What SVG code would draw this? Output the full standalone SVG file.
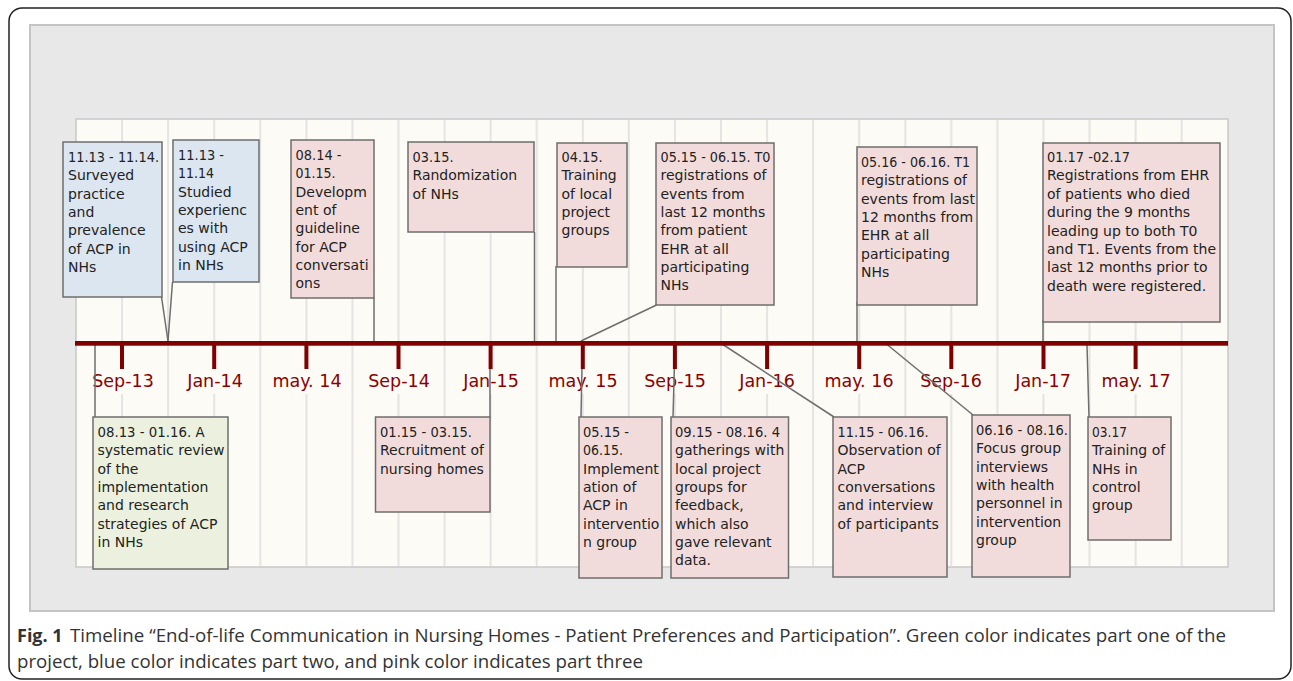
<svg xmlns="http://www.w3.org/2000/svg" width="1293" height="681" viewBox="0 0 1293 681">
<style>
.box{stroke:#6e6e6e;stroke-width:1.5}
.pink{fill:#f2dcdb}
.blue{fill:#dce6f1}
.green{fill:#ebf1de}
.t{font-family:"DejaVu Sans",sans-serif;font-size:14px;fill:#222}
.lbl{font-family:"DejaVu Sans",sans-serif;font-size:17.5px;fill:#8b0000;text-anchor:middle}
.con{stroke:#6e6e6e;stroke-width:1.5;fill:none}
.cap{font-family:"Open Sans",sans-serif;font-size:18px;fill:#333}
</style>
<rect x="9" y="8" width="1282" height="671" rx="13" fill="#fff" stroke="#222" stroke-width="1.5"/>
<rect x="30" y="25" width="1244" height="586" fill="#e8e8e8" stroke="#c4c4c4" stroke-width="2"/>
<rect x="76" y="119" width="1152" height="448" fill="#fdfbf5" stroke="#c8c8c8" stroke-width="1.5"/>
<g id="grid" stroke="#e4e4e4" stroke-width="2">
<path d="M122.1 120V566M168.1 120V566M214.2 120V566M260.3 120V566M306.4 120V566M352.4 120V566M398.5 120V566M444.6 120V566M490.6 120V566M536.7 120V566M582.8 120V566M628.8 120V566M674.9 120V566M721 120V566M767.1 120V566M813.1 120V566M859.2 120V566M905.3 120V566M951.3 120V566M997.4 120V566M1043.5 120V566M1089.5 120V566M1135.6 120V566M1181.7 120V566"/>
</g>
<g id="labels">
<g fill="#fdfbf5">
<rect x="90" y="369" width="64" height="25"/><rect x="182" y="369" width="64" height="25"/><rect x="270" y="369" width="74" height="25"/><rect x="366" y="369" width="64" height="25"/><rect x="458" y="369" width="64" height="25"/><rect x="546" y="369" width="74" height="25"/><rect x="643" y="369" width="64" height="25"/><rect x="735" y="369" width="64" height="25"/><rect x="822" y="369" width="74" height="25"/><rect x="919" y="369" width="64" height="25"/><rect x="1011" y="369" width="64" height="25"/><rect x="1099" y="369" width="74" height="25"/>
</g>
<text class="lbl" x="123" y="387">Sep-13</text>
<text class="lbl" x="215" y="387">Jan-14</text>
<text class="lbl" x="307" y="387">may. 14</text>
<text class="lbl" x="399" y="387">Sep-14</text>
<text class="lbl" x="491" y="387">Jan-15</text>
<text class="lbl" x="583" y="387">may. 15</text>
<text class="lbl" x="675" y="387">Sep-15</text>
<text class="lbl" x="767" y="387">Jan-16</text>
<text class="lbl" x="859" y="387">may. 16</text>
<text class="lbl" x="951" y="387">Sep-16</text>
<text class="lbl" x="1043" y="387">Jan-17</text>
<text class="lbl" x="1136" y="387">may. 17</text>
</g>
<g id="connectors" class="con">
<path d="M161.5 297L168 341"/>
<path d="M172.5 282L168 341"/>
<path d="M374 298V341"/>
<path d="M534.5 232V341"/>
<path d="M556 266V341"/>
<path d="M656.5 305L581 341"/>
<path d="M857 302V341"/>
<path d="M1043 320V341"/>
<path d="M95 345V417"/>
<path d="M490 345V417"/>
<path d="M582.5 341L581 417"/>
<path d="M675 345L673 417"/>
<path d="M719 342L834 417"/>
<path d="M884 342L973 415"/>
<path d="M1087 345L1089 417"/>
</g>
<g id="axis" fill="#800000">
<rect x="75" y="341" width="1153" height="4.7"/>
<rect x="120" y="343" width="4" height="26"/><rect x="212.2" y="343" width="4" height="26"/><rect x="304.4" y="343" width="4" height="26"/><rect x="396.5" y="343" width="4" height="26"/><rect x="488.6" y="343" width="4" height="26"/><rect x="580.8" y="343" width="4" height="26"/><rect x="672.9" y="343" width="4" height="26"/><rect x="765.1" y="343" width="4" height="26"/><rect x="857.2" y="343" width="4" height="26"/><rect x="949.3" y="343" width="4" height="26"/><rect x="1041.5" y="343" width="4" height="26"/><rect x="1133.6" y="343" width="4" height="26"/>
</g>
<g id="n1"><rect class="box blue" x="63" y="142" width="99" height="155"/>
<text class="t" y="162"><tspan x="68" textLength="91" lengthAdjust="spacingAndGlyphs">11.13 - 11.14.</tspan><tspan x="68" dy="18.3">Surveyed</tspan><tspan x="68" dy="18.3">practice</tspan><tspan x="68" dy="18.3">and</tspan><tspan x="68" dy="18.3">prevalence</tspan><tspan x="68" dy="18.3">of ACP in</tspan><tspan x="68" dy="18.3">NHs</tspan></text></g>
<g id="n2"><rect class="box blue" x="173" y="140" width="86" height="142"/>
<text class="t" y="160"><tspan x="178" textLength="46" lengthAdjust="spacingAndGlyphs">11.13 -</tspan><tspan x="178" dy="18.3" textLength="36" lengthAdjust="spacingAndGlyphs">11.14</tspan><tspan x="178" dy="18.3">Studied</tspan><tspan x="178" dy="18.3">experienc</tspan><tspan x="178" dy="18.3">es with</tspan><tspan x="178" dy="18.3">using ACP</tspan><tspan x="178" dy="18.3">in NHs</tspan></text></g>
<g id="n3"><rect class="box pink" x="291" y="140" width="83" height="158"/>
<text class="t" y="160"><tspan x="295.5" textLength="46" lengthAdjust="spacingAndGlyphs">08.14 -</tspan><tspan x="295.5" dy="18.3" textLength="40" lengthAdjust="spacingAndGlyphs">01.15.</tspan><tspan x="295.5" dy="18.3">Developm</tspan><tspan x="295.5" dy="18.3">ent of</tspan><tspan x="295.5" dy="18.3">guideline</tspan><tspan x="295.5" dy="18.3">for ACP</tspan><tspan x="295.5" dy="18.3">conversati</tspan><tspan x="295.5" dy="18.3">ons</tspan></text></g>
<g id="n4"><rect class="box pink" x="408" y="142" width="126" height="90"/>
<text class="t" y="162"><tspan x="412.5" textLength="41" lengthAdjust="spacingAndGlyphs">03.15.</tspan><tspan x="412.5" dy="18.3">Randomization</tspan><tspan x="412.5" dy="18.3">of NHs</tspan></text></g>
<g id="n5"><rect class="box pink" x="557" y="143" width="70" height="124"/>
<text class="t" y="162"><tspan x="561.5" textLength="41" lengthAdjust="spacingAndGlyphs">04.15.</tspan><tspan x="561.5" dy="18.3">Training</tspan><tspan x="561.5" dy="18.3">of local</tspan><tspan x="561.5" dy="18.3">project</tspan><tspan x="561.5" dy="18.3">groups</tspan></text></g>
<g id="n6"><rect class="box pink" x="656" y="143" width="118" height="162"/>
<text class="t" y="162"><tspan x="660.5" textLength="110" lengthAdjust="spacingAndGlyphs">05.15 - 06.15. T0</tspan><tspan x="660.5" dy="18.3">registrations of</tspan><tspan x="660.5" dy="18.3">events from</tspan><tspan x="660.5" dy="18.3">last 12 months</tspan><tspan x="660.5" dy="18.3">from patient</tspan><tspan x="660.5" dy="18.3">EHR at all</tspan><tspan x="660.5" dy="18.3">participating</tspan><tspan x="660.5" dy="18.3">NHs</tspan></text></g>
<g id="n7"><rect class="box pink" x="857" y="147" width="120" height="158"/>
<text class="t" y="167"><tspan x="861" textLength="109" lengthAdjust="spacingAndGlyphs">05.16 - 06.16. T1</tspan><tspan x="861" dy="18.3">registrations of</tspan><tspan x="861" dy="18.3">events from last</tspan><tspan x="861" dy="18.3">12 months from</tspan><tspan x="861" dy="18.3">EHR at all</tspan><tspan x="861" dy="18.3">participating</tspan><tspan x="861" dy="18.3">NHs</tspan></text></g>
<g id="n8"><rect class="box pink" x="1043" y="143" width="177" height="179"/>
<text class="t" y="162"><tspan x="1047" textLength="83" lengthAdjust="spacingAndGlyphs">01.17 -02.17</tspan><tspan x="1047" dy="18.4">Registrations from EHR</tspan><tspan x="1047" dy="18.4">of patients who died</tspan><tspan x="1047" dy="18.4">during the 9 months</tspan><tspan x="1047" dy="18.4">leading up to both T0</tspan><tspan x="1047" dy="18.4">and T1. Events from the</tspan><tspan x="1047" dy="18.4">last 12 months prior to</tspan><tspan x="1047" dy="18.4">death were registered.</tspan></text></g>
<g id="n9"><rect class="box green" x="93" y="417" width="135" height="152"/>
<text class="t" y="437"><tspan x="97.5" textLength="107" lengthAdjust="spacingAndGlyphs">08.13 - 01.16. A</tspan><tspan x="97.5" dy="18.3">systematic review</tspan><tspan x="97.5" dy="18.3">of the</tspan><tspan x="97.5" dy="18.3">implementation</tspan><tspan x="97.5" dy="18.3">and research</tspan><tspan x="97.5" dy="18.3">strategies of ACP</tspan><tspan x="97.5" dy="18.3">in NHs</tspan></text></g>
<g id="n10"><rect class="box pink" x="375.5" y="417" width="114.5" height="95"/>
<text class="t" y="437"><tspan x="380" textLength="92" lengthAdjust="spacingAndGlyphs">01.15 - 03.15.</tspan><tspan x="380" dy="18.3">Recruitment of</tspan><tspan x="380" dy="18.3">nursing homes</tspan></text></g>
<g id="n11"><rect class="box pink" x="579" y="417" width="83" height="161"/>
<text class="t" y="437"><tspan x="583" textLength="46" lengthAdjust="spacingAndGlyphs">05.15 -</tspan><tspan x="583" dy="18.3" textLength="40" lengthAdjust="spacingAndGlyphs">06.15.</tspan><tspan x="583" dy="18.3">Implement</tspan><tspan x="583" dy="18.3">ation of</tspan><tspan x="583" dy="18.3">ACP in</tspan><tspan x="583" dy="18.3">interventio</tspan><tspan x="583" dy="18.3">n group</tspan></text></g>
<g id="n12"><rect class="box pink" x="671" y="417" width="117.5" height="161"/>
<text class="t" y="437"><tspan x="675" textLength="105" lengthAdjust="spacingAndGlyphs">09.15 - 08.16. 4</tspan><tspan x="675" dy="18.3">gatherings with</tspan><tspan x="675" dy="18.3">local project</tspan><tspan x="675" dy="18.3">groups for</tspan><tspan x="675" dy="18.3">feedback,</tspan><tspan x="675" dy="18.3">which also</tspan><tspan x="675" dy="18.3">gave relevant</tspan><tspan x="675" dy="18.3">data.</tspan></text></g>
<g id="n13"><rect class="box pink" x="833" y="417" width="114" height="160"/>
<text class="t" y="437"><tspan x="837.5" textLength="91" lengthAdjust="spacingAndGlyphs">11.15 - 06.16.</tspan><tspan x="837.5" dy="18.3">Observation of</tspan><tspan x="837.5" dy="18.3">ACP</tspan><tspan x="837.5" dy="18.3">conversations</tspan><tspan x="837.5" dy="18.3">and interview</tspan><tspan x="837.5" dy="18.3">of participants</tspan></text></g>
<g id="n14"><rect class="box pink" x="972" y="415" width="98" height="162"/>
<text class="t" y="435"><tspan x="976" textLength="92" lengthAdjust="spacingAndGlyphs">06.16 - 08.16.</tspan><tspan x="976" dy="18.3">Focus group</tspan><tspan x="976" dy="18.3">interviews</tspan><tspan x="976" dy="18.3">with health</tspan><tspan x="976" dy="18.3">personnel in</tspan><tspan x="976" dy="18.3">intervention</tspan><tspan x="976" dy="18.3">group</tspan></text></g>
<g id="n15"><rect class="box pink" x="1088" y="417" width="83" height="123"/>
<text class="t" y="437"><tspan x="1092" textLength="35" lengthAdjust="spacingAndGlyphs">03.17</tspan><tspan x="1092" dy="18.3">Training of</tspan><tspan x="1092" dy="18.3">NHs in</tspan><tspan x="1092" dy="18.3">control</tspan><tspan x="1092" dy="18.3">group</tspan></text></g>
<g id="caption">
<text class="cap" x="17" y="642" font-weight="bold">Fig. 1</text>
<text class="cap" x="70" y="642" textLength="1156" lengthAdjust="spacingAndGlyphs">Timeline “End-of-life Communication in Nursing Homes - Patient Preferences and Participation”. Green color indicates part one of the</text>
<text class="cap" x="17" y="668" textLength="626" lengthAdjust="spacingAndGlyphs">project, blue color indicates part two, and pink color indicates part three</text>
</g>
</svg>
